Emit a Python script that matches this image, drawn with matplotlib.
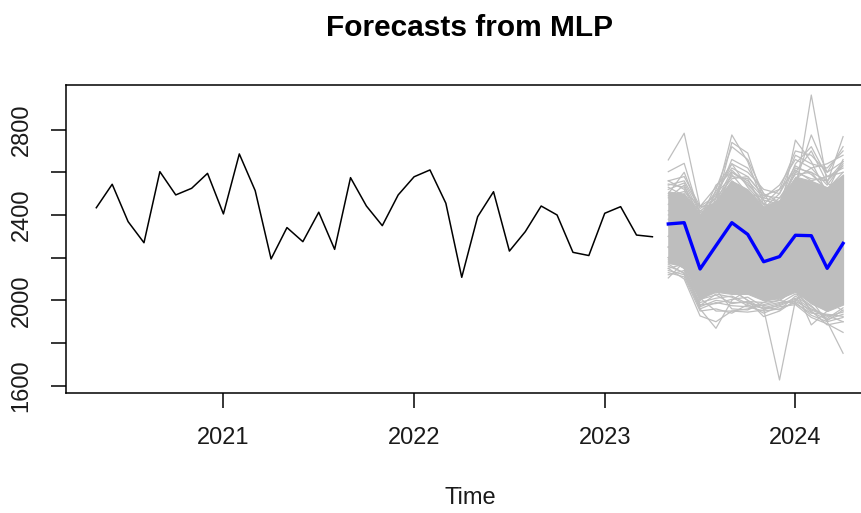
import matplotlib
matplotlib.use("Agg")
import matplotlib.pyplot as plt
import numpy as np

plt.rcParams['font.family'] = ['Liberation Sans', 'DejaVu Sans']

# Monthly observed series, May 2020 - Apr 2023
start_year = 2020 + 4 / 12
observed = [2434, 2544, 2369, 2270, 2603, 2494, 2525, 2595, 2405, 2686,
            2514, 2194, 2341, 2275, 2413, 2239, 2575, 2442, 2350, 2494,
            2579, 2611, 2455, 2108, 2392, 2509, 2231, 2322, 2442, 2400,
            2225, 2210, 2408, 2439, 2306, 2298]

# Ensemble mean forecast, May 2023 - Apr 2024
forecast_mean = [2358, 2364, 2147, 2256, 2364, 2309, 2181, 2205, 2305, 2303,
                 2150, 2267]

# Dense region covered by the bulk of the ensemble members
ensemble_low = [2175, 2160, 2010, 2040, 2030, 2030, 2000, 2010, 2040, 1985,
                1950, 1980]
ensemble_high = [2510, 2500, 2400, 2470, 2560, 2520, 2440, 2470, 2580, 2560,
                 2530, 2590]

# Individual ensemble members
members = [
    [2658, 2783, 2439, 2450, 2560, 2500, 2420, 2480, 2560, 2500, 2480, 2550],
    [2450, 2500, 2300, 2480, 2775, 2650, 2450, 2380, 2500, 2450, 2400, 2500],
    [2380, 2420, 2250, 2450, 2740, 2690, 2470, 2350, 2450, 2500, 2400, 2450],
    [2420, 2460, 2330, 2520, 2720, 2660, 2500, 2400, 2520, 2560, 2470, 2560],
    [2350, 2400, 2200, 2300, 2450, 2400, 2300, 2350, 2500, 2962, 2550, 2500],
    [2300, 2350, 2150, 2350, 2500, 2450, 2350, 2400, 2751, 2650, 2500, 2550],
    [2400, 2450, 2350, 2400, 2550, 2500, 2400, 2450, 2600, 2700, 2550, 2767],
    [2350, 2300, 2250, 2300, 2500, 2450, 2380, 2420, 2550, 2775, 2600, 2650],
    [2603, 2642, 2400, 2420, 2600, 2550, 2450, 2440, 2620, 2600, 2560, 2650],
    [2560, 2580, 2440, 2530, 2640, 2600, 2520, 2500, 2680, 2640, 2620, 2700],
    [2500, 2600, 2410, 2510, 2620, 2580, 2490, 2520, 2700, 2680, 2600, 2720],
    [2540, 2560, 2430, 2480, 2660, 2620, 2500, 2460, 2640, 2720, 2580, 2600],
    [2480, 2540, 2380, 2540, 2600, 2560, 2480, 2540, 2660, 2620, 2640, 2680],
    [2530, 2490, 2420, 2460, 2610, 2540, 2470, 2450, 2600, 2570, 2560, 2630],
    [2560, 2520, 2380, 2500, 2580, 2570, 2430, 2500, 2630, 2590, 2520, 2600],
    [2520, 2550, 2410, 2450, 2590, 2500, 2480, 2460, 2570, 2620, 2540, 2640],
    [2490, 2510, 2440, 2490, 2640, 2530, 2450, 2520, 2610, 2560, 2580, 2620],
    [2545, 2530, 2400, 2480, 2570, 2580, 2490, 2480, 2590, 2600, 2510, 2660],
    [2250, 2200, 2100, 2150, 2050, 2000, 1960, 1627, 2000, 2050, 2050, 2100],
    [2200, 2150, 1960, 1869, 2000, 2050, 2030, 2050, 2100, 2000, 2000, 2050],
    [2150, 2100, 1927, 1900, 1950, 1960, 1980, 2000, 2050, 1990, 1950, 2000],
    [2200, 2250, 2050, 2100, 2150, 2100, 2000, 2050, 2100, 2000, 1900, 1752],
    [2250, 2200, 2100, 2050, 2100, 2080, 2000, 2050, 2050, 1950, 1885, 1900],
    [2200, 2150, 2000, 2050, 1960, 1955, 1990, 2020, 2050, 2100, 2050, 2000],
    [2105, 2180, 2000, 2100, 2100, 2100, 2050, 2100, 2150, 2100, 2050, 2100],
    [2250, 2200, 2050, 2100, 2050, 2000, 1924, 1950, 2000, 2050, 2000, 1950],
    [2300, 2250, 2100, 2150, 2100, 2050, 2050, 2000, 2050, 1885, 1950, 2050],
    [2140, 2120, 1960, 1990, 1975, 1970, 1950, 1960, 1990, 1930, 1900, 1920],
    [2180, 2160, 1970, 2000, 1990, 1990, 1960, 1975, 2005, 1945, 1910, 1935],
    [2130, 2110, 1950, 1960, 1940, 1980, 1940, 1970, 1980, 1920, 1890, 1850],
    [2120, 2140, 2010, 1950, 1950, 1945, 1955, 1980, 2010, 1960, 1930, 1900],
    [2160, 2130, 1990, 2010, 2020, 1985, 1975, 1990, 1995, 1955, 1925, 1945],
    [2190, 2150, 1980, 1985, 2005, 2015, 1970, 1955, 2020, 1970, 1915, 1965],
    [2150, 2170, 2005, 2025, 1985, 1995, 1990, 2000, 1985, 1940, 1935, 1925],
    [2170, 2125, 1975, 2030, 2015, 1975, 1965, 1985, 2030, 1975, 1905, 1955],
]

ytick_values = [1600, 1800, 2000, 2200, 2400, 2600, 2800]
ytick_labels = ['1600', '', '2000', '', '2400', '', '2800']
xtick_values = [2021, 2022, 2023, 2024]
xtick_labels = ['2021', '2022', '2023', '2024']

t_obs = start_year + np.arange(len(observed)) / 12
t_fc = t_obs[-1] + (1 + np.arange(len(forecast_mean))) / 12

fig = plt.figure(figsize=(8.62, 5.13), dpi=100)
W, H = 862, 513
left, right, top, bottom = 66.5, 873.0, 85.0, 393.0
ax = fig.add_axes([left / W, 1 - bottom / H, (right - left) / W,
                   (bottom - top) / H])

grey = '#BEBEBE'
ax.fill_between(t_fc, ensemble_low, ensemble_high, color=grey, lw=0.8,
                edgecolor=grey)
for path in members:
    ax.plot(t_fc, path, color=grey, lw=0.9)
ax.plot(t_obs, observed, color='black', lw=1.1)
ax.plot(t_fc, forecast_mean, color='#0000FF', lw=2.4)

ax.set_xlim(2020.177, 2024.407)
ax.set_ylim(1566, 3009)

ax.set_yticks(ytick_values)
ax.set_yticklabels(ytick_labels, rotation=90, va='center')
ax.set_xticks(xtick_values)
ax.set_xticklabels(xtick_labels)
ax.tick_params(axis='both', length=10.5, width=1.1, labelsize=17,
               color='black', labelcolor='#1a1a1a', pad=14)

for sp in ax.spines.values():
    sp.set_linewidth(1.1)
    sp.set_color('black')

fig.text(470 / W, 1 - 28 / H, 'Forecasts from MLP', ha='center',
         va='center', fontsize=21.5, fontweight='bold')
fig.text(470 / W, 1 - 498 / H, 'Time', ha='center', va='center',
         fontsize=17, color='#1a1a1a')

fig.savefig('out.png', dpi=100)
